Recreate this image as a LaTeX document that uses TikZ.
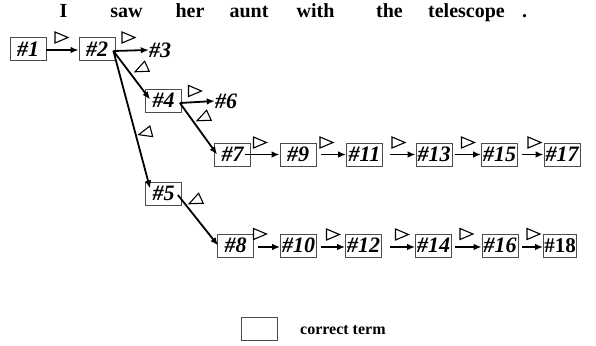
\documentclass[tikz,border=0pt]{standalone}
\usepackage{fontspec}
\setmainfont{Liberation Serif}
\usetikzlibrary{arrows.meta}
\begin{document}
\begin{tikzpicture}[x=1pt,y=-1pt,
  term/.style={draw=black!70, line width=0.8pt, minimum width=36pt, minimum height=23pt, inner sep=0pt,
    font=\bfseries\itshape\fontsize{22}{22}\selectfont},
  lbl/.style={inner sep=0pt, font=\bfseries\itshape\fontsize{22}{22}\selectfont},
  word/.style={inner sep=0pt, anchor=base, font=\bfseries\fontsize{20}{20}\selectfont},
  arr/.style={-{Latex[length=8pt,width=6.5pt]}, line width=1.8pt},
  rtri/.pic={\draw[line width=1.1pt] (-6.5,-5.5) -- (6.5,0) -- (-6.5,5.5) -- cycle;},
  ltri/.pic={\draw[line width=1.1pt] (6.5,-5.5) -- (-6.5,0) -- (6.5,5.5) -- cycle;}
]
\useasboundingbox (0,0) rectangle (596,345);
% sentence
\node[word] (w1) at (63.5,17.5) {I};
\node[word] (w2) at (126.5,17.5) {saw};
\node[word] (w3) at (190,17.5) {her};
\node[word] (w4) at (249,17.5) {aunt};
\node[word] (w5) at (315.5,17.5) {with};
\node[word] (w6) at (389.5,17.5) {the};
\node[word] (w7) at (466.5,17.5) {telescope};
\node[word] (w8) at (524.5,17.5) {.};
% terms
\node[term] (n1) at (28,49) {\#1};
\node[term] (n2) at (97,49) {\#2\hspace{4pt}};
\node[lbl]  (n3) at (160,50) {\#3};
\node[term] (n4) at (163.5,100.5) {\#4};
\node[lbl]  (n6) at (226,101) {\#6};
\node[term] (n7) at (232.5,154.5) {\#7\hspace{16pt}};
\node[term] (n9) at (298,154.5) {\#9\hspace{12pt}};
\node[term] (n11) at (364.5,154.5) {\#11};
\node[term] (n13) at (434,154.5) {\#13};
\node[term] (n15) at (499.5,154.5) {\#15};
\node[term] (n17) at (562,154.5) {\#17};
\node[term] (n5) at (163.5,193.5) {\#5\hspace{2pt}};
\node[term] (n8) at (235.5,245.5) {\#8\hspace{16pt}};
\node[term] (n10) at (298.5,245.5) {\#10};
\node[term] (n12) at (363.5,245.5) {\#12};
\node[term] (n14) at (433.5,245.5) {\#14};
\node[term] (n16) at (500,245.5) {\#16};
\node[term, font=\bfseries\fontsize{21}{21}\selectfont, minimum width=33pt] (n18) at (560,245.5) {\#18};
% legend
\node[term] (leg) at (259,328.5) {};
\node[inner sep=0pt, font=\bfseries\fontsize{16}{16}\selectfont, anchor=base west] (legt) at (300,334) {correct term};
% connectors
\coordinate (o2) at ([xshift=-2pt,yshift=-2pt]n2.east);
\coordinate (o4) at ([xshift=-2pt,yshift=-2.5pt]n4.east);
\coordinate (o5) at ([xshift=-4pt,yshift=-1.5pt]n5.east);
\draw[arr] ([yshift=-1pt]n1.east) -- ([yshift=-1pt]n2.west);
\draw[arr] (o2) -- (n3.west);
\draw[arr] (o2) -- ([xshift=5pt,yshift=1pt]n4.west);
\draw[arr] (o2) -- ([xshift=5pt,yshift=5pt]n5.west);
\draw[arr] (o4) -- (n6.west);
\draw[arr] (o4) -- ([xshift=3pt]n7.west);
\draw[arr] (o5) -- ([xshift=1pt]n8.west);
\draw[arr] ([xshift=-6pt]n7.east) -- (n9.west);
\draw[arr, shorten <=5pt] (n9.east) -- (n11.west);
\draw[arr, shorten <=7pt] (n11.east) -- (n13.west);
\draw[arr, shorten <=3pt] (n13.east) -- (n15.west);
\draw[arr, shorten <=4pt] (n15.east) -- (n17.west);
\draw[arr, shorten <=4pt] ([yshift=-1.5pt]n8.east) -- ([yshift=-1.5pt]n10.west);
\draw[arr, shorten <=4pt] ([yshift=-1.5pt]n10.east) -- ([yshift=-1.5pt]n12.west);
\draw[arr, shorten <=8pt] ([yshift=-1.5pt]n12.east) -- ([yshift=-1.5pt]n14.west);
\draw[arr, shorten <=3pt] ([yshift=-1.5pt]n14.east) -- ([yshift=-1.5pt]n16.west);
\draw[arr, shorten <=4pt] ([yshift=-1.5pt]n16.east) -- ([yshift=-1.5pt]n18.west);
% triangles
\pic (t12) at (61.5,37.5) {rtri};
\pic (t23) at (128.5,37.5) {rtri};
\pic[rotate=25] (t24) at (141,69) {ltri};
\pic[rotate=15] (t25) at (145,133) {ltri};
\pic (t46) at (195,91) {rtri};
\pic[rotate=25] (t47) at (203,118) {ltri};
\pic[rotate=25] (t58) at (195,201) {ltri};
\pic (t79) at (260,142.5) {rtri};
\pic (t911) at (326.5,142.5) {rtri};
\pic (t1113) at (398.5,142.5) {rtri};
\pic (t1315) at (468,142.5) {rtri};
\pic (t1517) at (534.5,142.5) {rtri};
\pic (t810) at (260,234) {rtri};
\pic (t1012) at (333,234.5) {rtri};
\pic (t1214) at (402,234.5) {rtri};
\pic (t1416) at (466.5,234) {rtri};
\pic (t1618) at (533.5,234) {rtri};
\end{tikzpicture}
\end{document}
